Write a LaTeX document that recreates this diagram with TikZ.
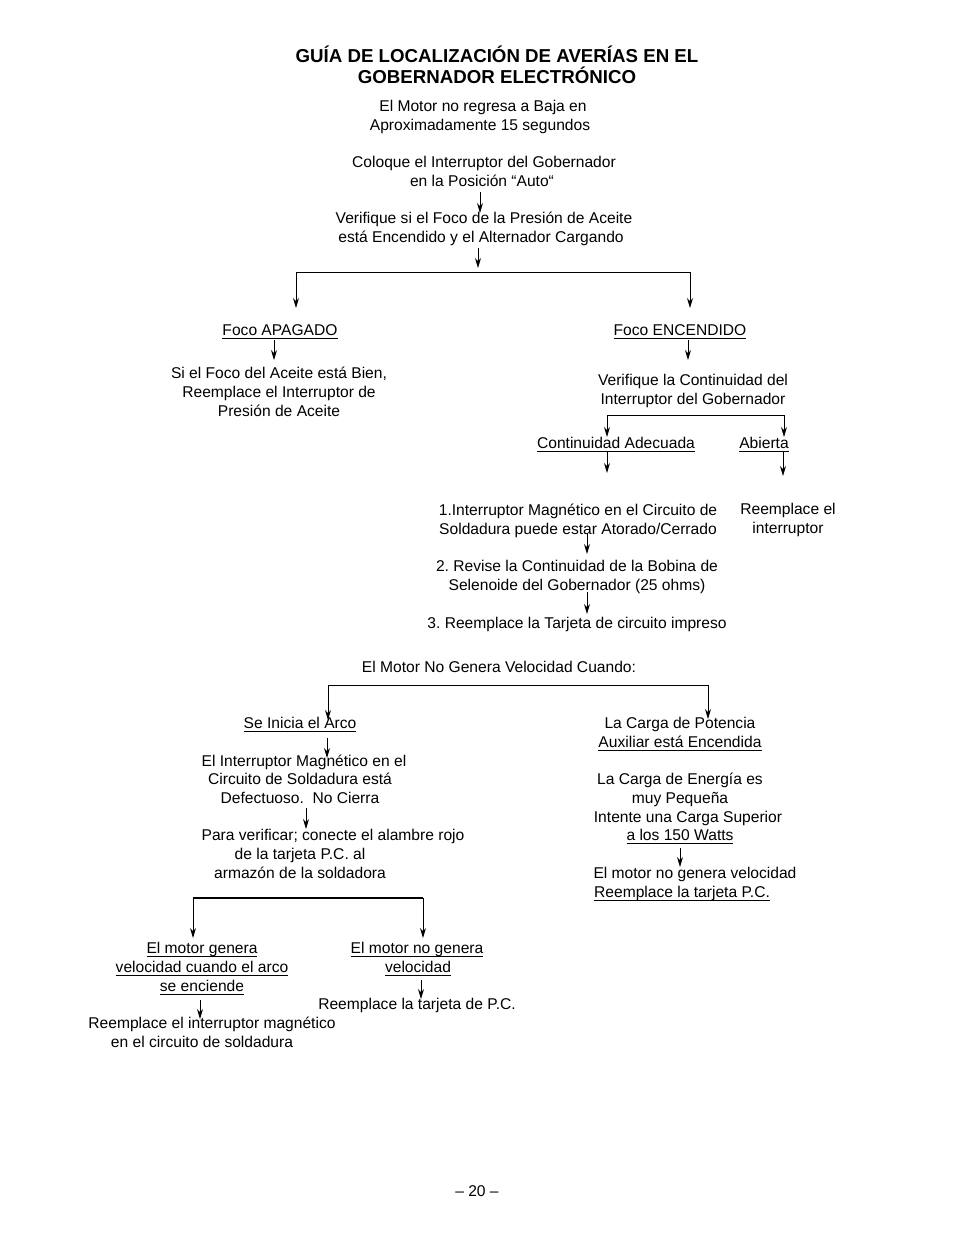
\documentclass[tikz,border=0pt]{standalone}
\usepackage{fontspec}
\setmainfont{Liberation Sans}
\usetikzlibrary{arrows.meta}
\newcommand{\myul}[1]{\setbox0\hbox{#1}\rlap{\rule[-3.2pt]{\wd0}{0.9pt}}\box0}
\newcommand{\bodyfont}{\fontsize{15.6}{19}\selectfont\frenchspacing}
\newcommand{\titlefont}{\fontsize{18.7}{21}\selectfont\bfseries}
\tikzset{
  txt/.style={font=\bodyfont, inner sep=0pt, anchor=base, yshift=-1pt},
  ttl/.style={font=\titlefont, inner sep=0pt, anchor=base},
  arr/.style={-{Stealth[length=10pt,width=6pt]}, line width=1pt},
  ln/.style={line width=1pt},
  thickln/.style={line width=2pt}
}
\begin{document}
\begin{tikzpicture}[x=1pt,y=-1pt]
\useasboundingbox (0,0) rectangle (954,1235);
\fill[white] (0,0) rectangle (954,1235);
% title
\node[ttl] (t1) at (497,62.5) {GUÍA DE LOCALIZACIÓN DE AVERÍAS EN EL};
\node[ttl] (t2) at (497,83.5) {GOBERNADOR ELECTRÓNICO};
% top chain
\node[txt] (n1a) at (483,110.5) {El Motor no regresa a Baja en};
\node[txt] (n1b) at (480,129.5) {Aproximadamente 15 segundos};
\node[txt] (n2a) at (484,166.5) {Coloque el Interruptor del Gobernador};
\node[txt] (n2b) at (482,185.5) {en la Posición “Auto“};
\coordinate (a1s) at (480,192); \coordinate (a1e) at (480,213);
\draw[arr] (a1s) -- (a1e);
\node[txt] (n3a) at (484,222.5) {Verifique si el Foco de la Presión de Aceite};
\node[txt] (n3b) at (481,241.5) {está Encendido y el Alternador Cargando};
\coordinate (a2s) at (478,248); \coordinate (a2e) at (478,268);
\draw[arr] (a2s) -- (a2e);
\coordinate (b1l) at (296,272); \coordinate (b1r) at (690,272);
\coordinate (b1le) at (296,308); \coordinate (b1re) at (690,308);
\draw[ln] (b1l) -- (b1r);
\draw[arr] (b1l) -- (b1le);
\draw[arr] (b1r) -- (b1re);
% left branch
\node[txt] (n4) at (280,334.5) {\myul{Foco APAGADO}};
\coordinate (a3s) at (274,340); \coordinate (a3e) at (274,360);
\draw[arr] (a3s) -- (a3e);
\node[txt] (n5a) at (279,377.5) {Si el Foco del Aceite está Bien,};
\node[txt] (n5b) at (279,396.5) {Reemplace el Interruptor de};
\node[txt] (n5c) at (279,415.5) {Presión de Aceite};
% right branch
\node[txt] (n6) at (680,334.5) {\myul{Foco ENCENDIDO}};
\coordinate (a4s) at (688,340); \coordinate (a4e) at (688,360);
\draw[arr] (a4s) -- (a4e);
\node[txt] (n7a) at (693,384.5) {Verifique la Continuidad del};
\node[txt] (n7b) at (693,403.5) {Interruptor del Gobernador};
\coordinate (b2l) at (607,415); \coordinate (b2r) at (784,415);
\coordinate (b2le) at (607,437); \coordinate (b2re) at (784,437);
\draw[ln] (b2l) -- (b2r);
\draw[arr] (b2l) -- (b2le);
\draw[arr] (b2r) -- (b2re);
\node[txt] (n8) at (616,447.5) {\myul{Continuidad Adecuada}};
\node[txt] (n9) at (764,447.5) {\myul{Abierta}};
\coordinate (a5s) at (607,452); \coordinate (a5e) at (607,473);
\draw[arr] (a5s) -- (a5e);
\coordinate (a6s) at (783,452); \coordinate (a6e) at (783,476);
\draw[arr] (a6s) -- (a6e);
\node[txt] (n10a) at (788,513.5) {Reemplace el};
\node[txt] (n10b) at (788,532.5) {interruptor};
\node[txt] (n11a) at (578,514.5) {1.Interruptor Magnético en el Circuito de};
\node[txt] (n11b) at (578,533.5) {Soldadura puede estar Atorado/Cerrado};
\coordinate (a7s) at (587,533); \coordinate (a7e) at (587,554);
\draw[arr] (a7s) -- (a7e);
\node[txt] (n12a) at (577,570.5) {2. Revise la Continuidad de la Bobina de};
\node[txt] (n12b) at (577,589.5) {Selenoide del Gobernador (25 ohms)};
\coordinate (a8s) at (587,592); \coordinate (a8e) at (587,614);
\draw[arr] (a8s) -- (a8e);
\node[txt] (n13) at (577,627.5) {3. Reemplace la Tarjeta de circuito impreso};
% second chart
\node[txt] (n14) at (499,671.5) {El Motor No Genera Velocidad Cuando:};
\coordinate (b3l) at (328,685); \coordinate (b3r) at (708,685);
\coordinate (b3le) at (328,720); \coordinate (b3re) at (708,719);
\draw[ln] (b3l) -- (b3r);
\draw[arr] (b3l) -- (b3le);
\draw[arr] (b3r) -- (b3re);
\node[txt] (n15) at (300,727.5) {\myul{Se Inicia el Arco}};
\coordinate (a9s) at (327,738); \coordinate (a9e) at (327,758);
\draw[arr] (a9s) -- (a9e);
\node[txt] (n16a) at (304,765.5) {El Interruptor Magnético en el};
\node[txt] (n16b) at (300,783.5) {Circuito de Soldadura está};
\node[txt] (n16c) at (300,802.5) {Defectuoso.\ \ No Cierra};
\coordinate (a10s) at (306,808); \coordinate (a10e) at (306,829);
\draw[arr] (a10s) -- (a10e);
\node[txt] (n17a) at (333,839.5) {Para verificar; conecte el alambre rojo};
\node[txt] (n17b) at (300,858.5) {de la tarjeta P.C. al};
\node[txt] (n17c) at (300,877.5) {armazón de la soldadora};
\coordinate (b4l) at (193,898); \coordinate (b4r) at (423,898);
\coordinate (b4le) at (193,938); \coordinate (b4re) at (423,938);
\draw[thickln] (b4l) -- (b4r);
\draw[arr] (b4l) -- (b4le);
\draw[arr] (b4r) -- (b4re);
\node[txt] (n18a) at (202,952.5) {\myul{El motor genera}};
\node[txt] (n18b) at (202,971.5) {\myul{velocidad cuando el arco}};
\node[txt] (n18c) at (202,990.5) {\myul{se enciende}};
\coordinate (a11s) at (200,1000); \coordinate (a11e) at (200,1019);
\draw[arr] (a11s) -- (a11e);
\node[txt] (n19a) at (212,1027.5) {Reemplace el interruptor magnético};
\node[txt] (n19b) at (202,1046.5) {en el circuito de soldadura};
\node[txt] (n20a) at (417,952.5) {\myul{El motor no genera}};
\node[txt] (n20b) at (418,971.5) {\myul{velocidad}};
\coordinate (a12s) at (421,980); \coordinate (a12e) at (421,999);
\draw[arr] (a12s) -- (a12e);
\node[txt] (n21) at (417,1008.5) {Reemplace la tarjeta de P.C.};
\node[txt] (n22a) at (680,727.5) {La Carga de Potencia};
\node[txt] (n22b) at (680,746.5) {\myul{Auxiliar está Encendida}};
\node[txt] (n23a) at (680,783.5) {La Carga de Energía es};
\node[txt] (n23b) at (680,802.5) {muy Pequeña};
\node[txt] (n23c) at (688,821.5) {Intente una Carga Superior};
\node[txt] (n23d) at (680,839.5) {\myul{a los 150 Watts}};
\coordinate (a13s) at (680,848); \coordinate (a13e) at (680,867);
\draw[arr] (a13s) -- (a13e);
\node[txt] (n24a) at (695,877.5) {El motor no genera velocidad};
\node[txt,anchor=base west] (n24b) at (594,896.5) {\myul{Reemplace la tarjeta P.C.}};
% page number
\node[txt] (pg) at (477,1195.5) {– 20 –};
\end{tikzpicture}
\end{document}
